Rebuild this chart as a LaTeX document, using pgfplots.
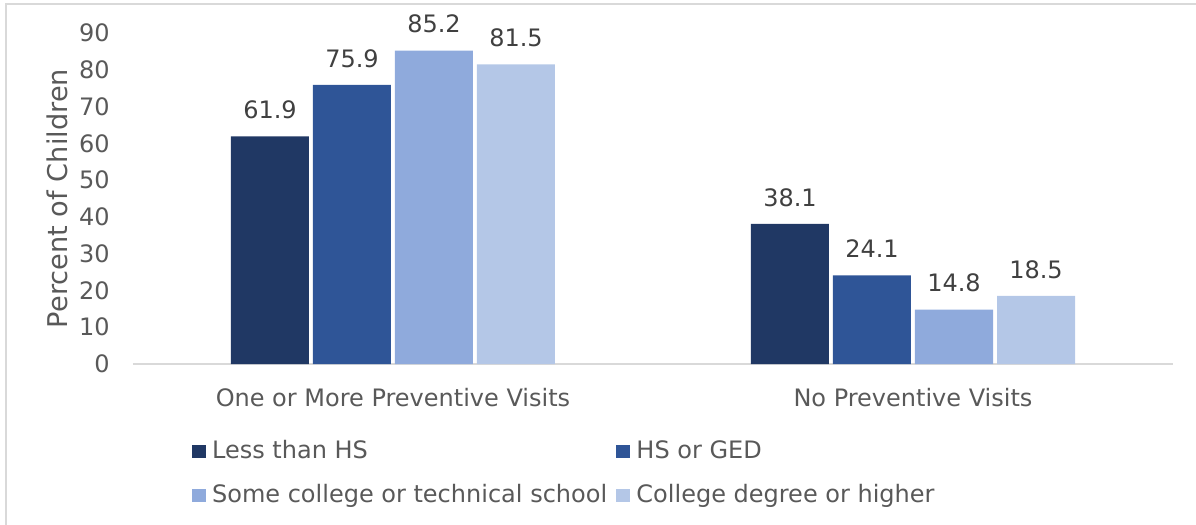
\documentclass[border=0pt]{standalone}
\usepackage{fontspec}
\setmainfont{DejaVu Sans}
\usepackage{pgfplots}
\pgfplotsset{compat=1.18}
\definecolor{cA}{HTML}{203864}
\definecolor{cB}{HTML}{2F5597}
\definecolor{cC}{HTML}{8FAADC}
\definecolor{cD}{HTML}{B4C7E7}
\definecolor{lgray}{HTML}{D9D9D9}
\definecolor{tgray}{HTML}{595959}
\definecolor{dgray}{HTML}{404040}
\begin{document}
\fontsize{12pt}{14.4pt}\selectfont
\begin{tikzpicture}
\useasboundingbox (-66.5pt,-80.5pt) rectangle (531.5pt,182pt);
\draw[lgray, line width=0.75pt] (-63.5pt,-80.5pt) -- (-63.5pt,180pt) -- (531.5pt,180pt);
\begin{axis}[
  at={(0pt,0pt)}, anchor=south west,
  scale only axis, width=520pt, height=165.5pt,
  /pgf/number format/assume math mode=true,
  font=\fontsize{12pt}{14.4pt}\selectfont,
  ymin=0, ymax=90, xmin=-0.5, xmax=1.5,
  ytick={0,10,...,90},
  xtick={0,1},
  xticklabels={One or More Preventive Visits, No Preventive Visits},
  major tick length=0pt,
  axis x line*=bottom, axis y line*=left,
  x axis line style={lgray, line width=0.75pt, -},
  y axis line style={draw=none},
  ticklabel style={color=tgray},
  yticklabel style={xshift=-7.5pt},
  xticklabel style={yshift=-8pt},
  every axis y label/.style={at={(axis description cs:-0.0726,0.5)}, rotate=90, anchor=center, color=tgray, font=\fontsize{13.6pt}{16pt}\selectfont},
  ylabel={Percent of Children},
  ybar=2pt, bar width=39pt,
  clip=false,
  nodes near coords,
  every node near coord/.append style={color=dgray, inner sep=0pt, anchor=south, yshift=8.5pt,
    /pgf/number format/.cd, fixed, fixed zerofill, precision=1},
  legend columns=2,
  legend image code/.code={\fill[#1, draw=none] (0pt,-3.4pt) rectangle (6.8pt,3.4pt);},
  legend style={at={(axis description cs:0.05644,-0.2300)}, anchor=north west, draw=none,
    inner sep=0pt, column sep=0pt, row sep=11.2pt,
    nodes={inner xsep=3.2pt, inner ysep=0pt, color=tgray}},
  legend cell align=left,
]
\addplot[fill=cA, draw=none] coordinates {(0,61.9) (1,38.1)};
\addplot[fill=cB, draw=none] coordinates {(0,75.9) (1,24.1)};
\addplot[fill=cC, draw=none] coordinates {(0,85.2) (1,14.8)};
\addplot[fill=cD, draw=none] coordinates {(0,81.5) (1,18.5)};
\legend{\makebox[199pt][l]{Less than HS}, HS or GED, \makebox[199pt][l]{Some college or technical school}, College degree or higher}
\end{axis}
\end{tikzpicture}
\end{document}
